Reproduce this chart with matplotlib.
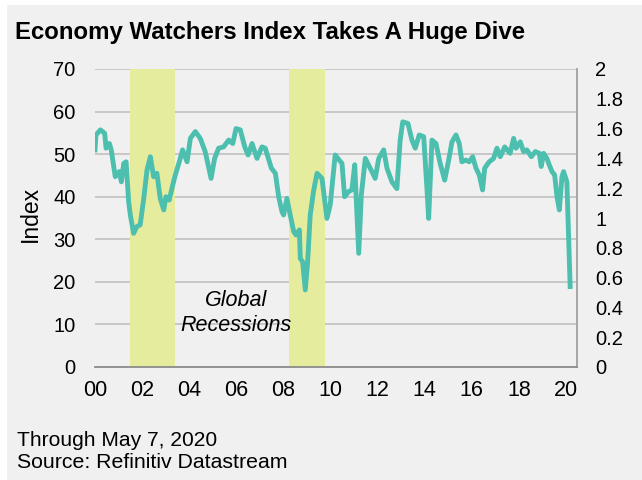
import matplotlib
matplotlib.use("Agg")
import matplotlib.pyplot as plt
from matplotlib.patches import Rectangle

plt.rcParams['font.family'] = ['Liberation Sans', 'DejaVu Sans']

# Economy Watchers Index (decimal year, index value)
years = [2000.00, 2000.04, 2000.23, 2000.41, 2000.47, 2000.61, 2000.69, 2000.86, 2001.03, 2001.12,
         2001.22, 2001.32, 2001.43, 2001.50, 2001.64, 2001.78, 2001.92, 2002.07, 2002.21, 2002.35,
         2002.49, 2002.63, 2002.77, 2002.92, 2003.01, 2003.15, 2003.27, 2003.41, 2003.58, 2003.72,
         2003.91, 2004.05, 2004.26, 2004.47, 2004.68, 2004.93, 2005.08, 2005.25, 2005.46, 2005.68,
         2005.85, 2005.99, 2006.17, 2006.36, 2006.50, 2006.67, 2006.88, 2007.09, 2007.23, 2007.49,
         2007.66, 2007.80, 2007.94, 2008.01, 2008.15, 2008.29, 2008.44, 2008.54, 2008.68, 2008.72,
         2008.82, 2008.93, 2009.03, 2009.14, 2009.29, 2009.43, 2009.64, 2009.85, 2009.99, 2010.20,
         2010.49, 2010.60, 2010.77, 2010.91, 2011.03, 2011.20, 2011.31, 2011.48, 2011.65, 2011.90,
         2012.05, 2012.26, 2012.40, 2012.61, 2012.82, 2012.96, 2013.07, 2013.29, 2013.46, 2013.60,
         2013.77, 2013.96, 2014.10, 2014.17, 2014.31, 2014.48, 2014.66, 2014.85, 2015.02, 2015.16,
         2015.33, 2015.47, 2015.58, 2015.75, 2015.89, 2016.04, 2016.18, 2016.32, 2016.46, 2016.55,
         2016.74, 2016.93, 2017.07, 2017.21, 2017.40, 2017.63, 2017.78, 2017.88, 2018.06, 2018.20,
         2018.34, 2018.53, 2018.70, 2018.87, 2018.95, 2019.05, 2019.19, 2019.29, 2019.41, 2019.52,
         2019.62, 2019.72, 2019.83, 2019.90, 2020.04, 2020.18]
index_values = [51.0, 54.5, 55.7, 54.9, 51.4, 52.5, 51.0, 44.7, 45.9, 43.5,
                47.8, 48.2, 38.8, 35.7, 31.4, 33.0, 33.4, 39.6, 46.3, 49.4,
                44.7, 45.5, 39.6, 36.9, 40.0, 39.2, 42.0, 45.1, 48.2, 51.0,
                48.2, 53.7, 55.3, 53.7, 50.6, 44.3, 49.0, 51.4, 51.7, 53.3,
                52.5, 56.0, 55.7, 51.7, 49.8, 52.5, 49.0, 51.7, 51.4, 46.7,
                45.5, 40.0, 36.5, 35.7, 39.6, 35.7, 31.8, 31.0, 32.2, 25.5,
                24.7, 18.1, 24.7, 35.7, 41.6, 45.5, 44.3, 34.9, 38.1, 49.8,
                47.8, 40.0, 41.2, 41.6, 47.5, 26.7, 40.4, 49.0, 47.1, 44.3,
                49.0, 51.0, 46.7, 43.5, 41.9, 53.3, 57.6, 57.2, 53.3, 51.4,
                54.5, 54.1, 41.6, 34.9, 53.3, 52.5, 47.8, 43.9, 48.6, 52.9,
                54.5, 52.5, 48.2, 48.6, 48.2, 49.4, 46.7, 45.1, 41.6, 46.7,
                48.2, 49.0, 51.4, 49.4, 51.7, 50.2, 53.7, 51.4, 52.9, 50.6,
                51.0, 49.4, 50.6, 50.2, 47.1, 50.2, 49.0, 47.5, 45.9, 45.1,
                40.0, 36.9, 44.7, 45.9, 43.5, 18.9]

recessions = [(2001.5, 2003.4), (2008.25, 2009.77)]
x_ticks = [2000, 2002, 2004, 2006, 2008, 2010, 2012, 2014, 2016, 2018, 2020]
x_labels = ['00', '02', '04', '06', '08', '10', '12', '14', '16', '18', '20']
left_ticks = [0, 10, 20, 30, 40, 50, 60, 70]
right_ticks = [0, 0.2, 0.4, 0.6, 0.8, 1, 1.2, 1.4, 1.6, 1.8, 2]
right_labels = ['0', '0.2', '0.4', '0.6', '0.8', '1', '1.2', '1.4', '1.6', '1.8', '2']

BG = '#F0F0F0'
LINE = '#4CBFAE'
SHADE = '#E6EC9E'

fig = plt.figure(figsize=(6.42, 4.80), dpi=100, facecolor='white')
fig.patches.append(Rectangle((7/642, 0), 1 - 7/642, 1 - 5/480, transform=fig.transFigure,
                             facecolor=BG, edgecolor='none', zorder=-10))

ax = fig.add_axes([95/642, 1 - 367/480, (577 - 95)/642, (367 - 69)/480])
ax.set_facecolor(BG)
ax.set_xlim(2000, 2020.47)
ax.set_ylim(0, 70)

for a, b in recessions:
    ax.axvspan(a, b, color=SHADE, zorder=1, lw=0)

ax.plot(years, index_values, color=LINE, lw=3.5, zorder=3, solid_joinstyle='round')

ax.set_yticks(left_ticks)
ax.grid(axis='y', color='#C4C4C4', lw=1.3, zorder=0)
ax.set_axisbelow(True)
ax.set_xticks(x_ticks)
ax.set_xticklabels(x_labels)
ax.tick_params(axis='x', length=0, pad=9, labelsize=15.5)
ax.tick_params(axis='y', length=0, pad=14, labelsize=14.5)
for s in ['top', 'left']:
    ax.spines[s].set_visible(False)
ax.spines['bottom'].set_color('#8C8C8C')
ax.spines['bottom'].set_linewidth(1.3)
ax.spines['right'].set_color('#A0A0A0')
ax.spines['right'].set_linewidth(1.3)
ax.set_ylabel('Index', fontsize=16.5)
ax.yaxis.set_label_coords((42 - 95)/482, (367 - 214)/298)

ax2 = ax.twinx()
ax2.set_ylim(0, 2)
ax2.set_yticks(right_ticks)
ax2.set_yticklabels(right_labels)
ax2.tick_params(axis='y', length=0, pad=13, labelsize=14.5)
for s in ax2.spines.values():
    s.set_visible(False)

ax.text(2006.0, 12.7, 'Global\nRecessions', ha='center', va='center', fontsize=15.5,
        style='italic', linespacing=1.22, zorder=4)

fig.text(15/642, 1 - 33/480, 'Economy Watchers Index Takes A Huge Dive', fontsize=17.3,
         fontweight='bold', ha='left', va='center')
fig.text(17/642, 1 - 440/480, 'Through May 7, 2020', fontsize=15.1, ha='left', va='center')
fig.text(17/642, 1 - 463/480, 'Source: Refinitiv Datastream', fontsize=15.3, ha='left', va='center')

fig.savefig('out.png', dpi=100, facecolor=fig.get_facecolor())
